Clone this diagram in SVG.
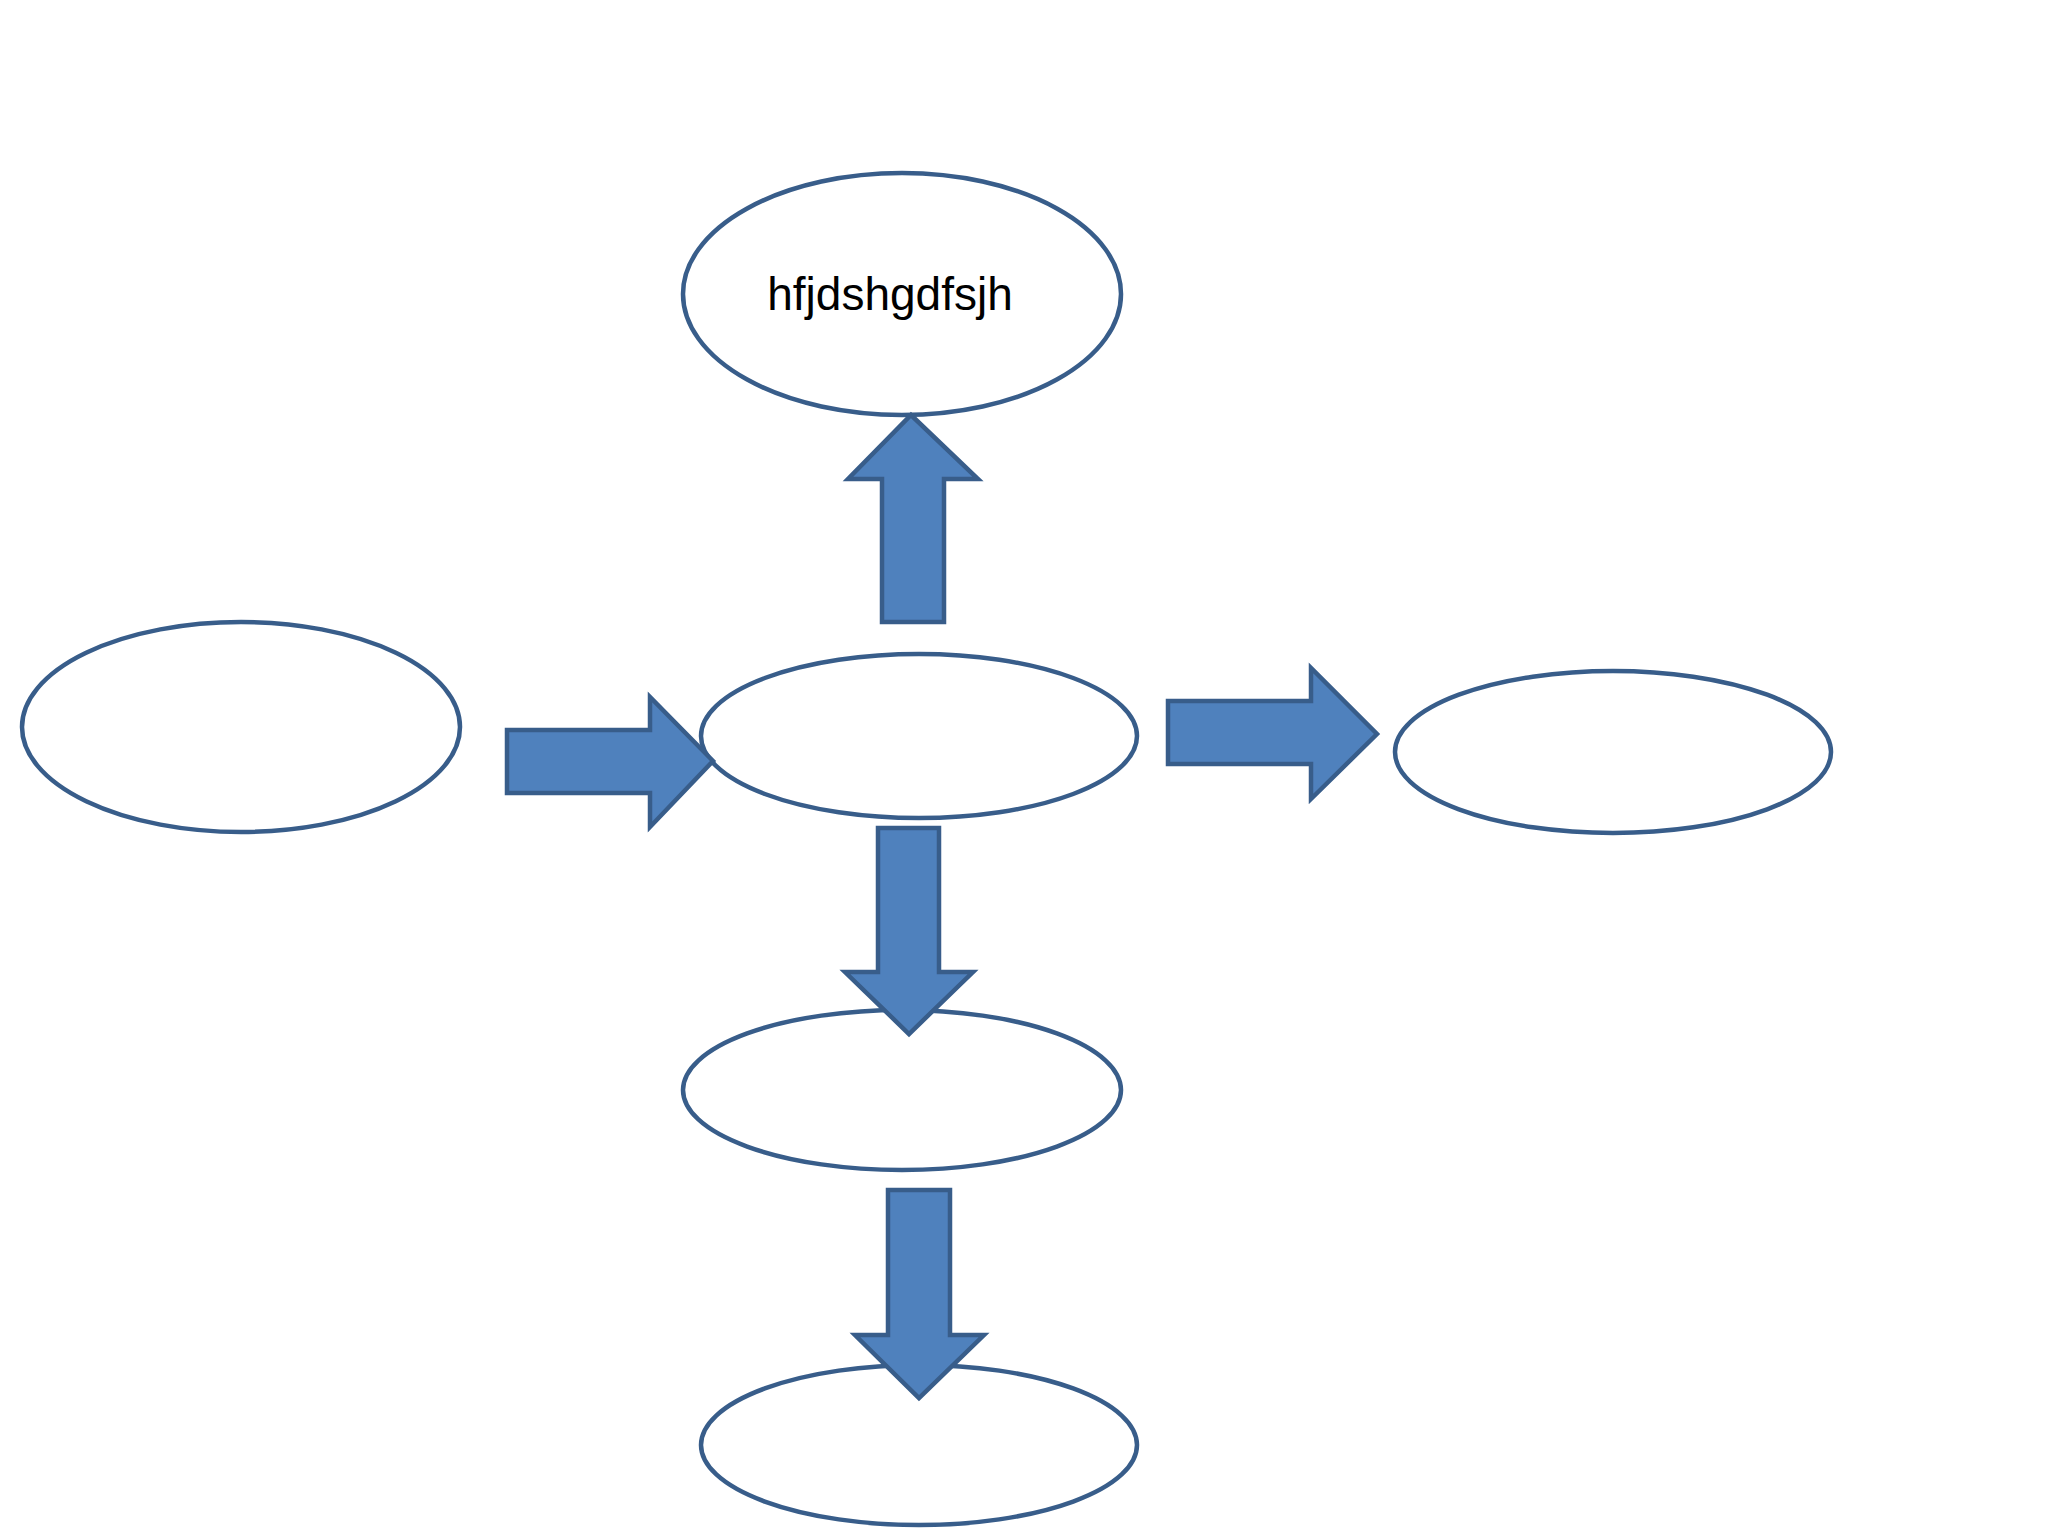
<svg xmlns="http://www.w3.org/2000/svg" width="2048" height="1536" viewBox="0 0 2048 1536">
  <style>
    .node { fill: #ffffff; stroke: #385d8a; stroke-width: 4.5; }
    .arrow { fill: #4f81bd; stroke: #385d8a; stroke-width: 4.5; stroke-linejoin: miter; }
    .label { font-family: "Liberation Sans", Arial, sans-serif; font-size: 46px; fill: #000000; text-anchor: middle; }
  </style>
  <rect x="0" y="0" width="2048" height="1536" fill="#ffffff"/>
  <g id="node-top">
    <ellipse class="node" cx="902" cy="294" rx="219" ry="121"/>
    <text class="label" x="890" y="310">hfjdshgdfsjh</text>
  </g>
  <g id="node-left">
    <ellipse class="node" cx="241" cy="727" rx="219" ry="105"/>
  </g>
  <g id="node-center">
    <ellipse class="node" cx="919" cy="736" rx="218" ry="82"/>
  </g>
  <g id="node-right">
    <ellipse class="node" cx="1613" cy="752" rx="218" ry="81"/>
  </g>
  <g id="node-bottom1">
    <ellipse class="node" cx="902" cy="1090" rx="219" ry="80"/>
  </g>
  <g id="node-bottom2">
    <ellipse class="node" cx="919" cy="1445" rx="218" ry="80"/>
  </g>
  <g id="connectors">
    <polygon class="arrow" points="882,622 944,622 944,479 978,479 911,415 848,479 882,479"/>
    <polygon class="arrow" points="507,730 650,730 650,697 713,761 650,827 650,793 507,793"/>
    <polygon class="arrow" points="1168,701 1311,701 1311,668 1377,734 1311,799 1311,764 1168,764"/>
    <polygon class="arrow" points="878,828 939,828 939,972 973,972 909,1034 845,972 878,972"/>
    <polygon class="arrow" points="888,1190 950,1190 950,1335 984,1335 919,1398 855,1335 888,1335"/>
  </g>
</svg>
